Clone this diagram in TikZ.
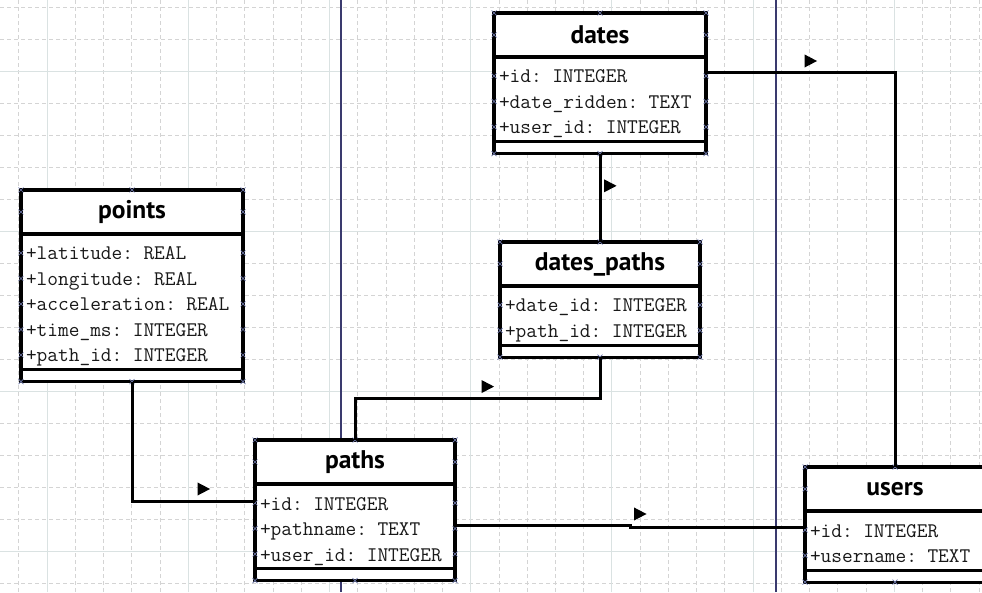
\documentclass[tikz,border=0pt]{standalone}
\usepackage{fontspec}
\newfontfamily\titlefont{PT Sans}
\usetikzlibrary{calc,positioning,shapes.geometric}
\definecolor{pagecol}{RGB}{58,58,110}
\definecolor{gridmaj}{RGB}{218,226,226}
\definecolor{gridmin}{RGB}{212,212,212}
\definecolor{attrcol}{RGB}{25,25,25}
\definecolor{hdlcol}{RGB}{110,120,170}

\begin{document}
\begin{tikzpicture}[x=1pt,y=1pt,
  tabtitle/.style={draw, line width=3.2pt, fill=white, anchor=north west, outer sep=0pt, inner sep=0pt, minimum height=44pt, font=\titlefont\bfseries\fontsize{25.5}{30}\selectfont},
  tabbody/.style={draw, line width=3.2pt, fill=white, anchor=north west, outer sep=0pt, inner xsep=5pt, inner ysep=0pt, align=left, text=attrcol, text height=26pt, execute at end node=\strut, font=\ttfamily\fontsize{20.8}{25.5}\selectfont},
  tabfoot/.style={draw, line width=3.2pt, fill=white, anchor=north west, outer sep=0pt, inner sep=0pt, minimum height=12pt},
  link/.style={line width=3pt},
  flag/.style={isosceles triangle, isosceles triangle apex angle=55, fill=black, inner sep=0pt, minimum size=12.5pt, xshift=8pt, yshift=12pt},
  xmark/.pic={\draw[hdlcol, line width=0.7pt] (-2.5,-2.5) -- (2.5,2.5) (-2.5,2.5) -- (2.5,-2.5);}
]
\useasboundingbox (0,0) rectangle (982,592);
\clip (0,0) rectangle (982,592);
\fill[white] (0,0) rectangle (982,592);

% grid
\foreach \gx in {0,...,34}
  \draw[gridmin, line width=0.7pt, dash pattern=on 4pt off 3pt] ({18.8+28.24*\gx},0) -- ++(0,592);
\foreach \gy in {0,...,18}
  \draw[gridmin, line width=0.7pt, dash pattern=on 4pt off 3pt] (0,{9+32*\gy}) -- ++(982,0);
\foreach \gx in {0,...,6}
  \draw[gridmaj, line width=0.9pt] ({47+141.2*\gx},0) -- ++(0,592);
\foreach \gy in {0,...,3}
  \draw[gridmaj, line width=0.9pt] (0,{41+160*\gy}) -- ++(982,0);

% page borders
\draw[pagecol, line width=1.2pt] (341,0) -- (341,592);
\draw[pagecol, line width=1.2pt] (776,0) -- (776,592);

% tables
\node[tabtitle, minimum width=222pt] (points) at (21,402) {points};
\node[tabbody, minimum width=222pt, text width=212pt, minimum height=134.5pt] (points-body) at (points.south west)
  {+latitude: REAL\\+longitude: REAL\\+acceleration: REAL\\+time\_ms: INTEGER\\+path\_id: INTEGER};
\node[tabfoot, minimum width=222pt] (points-foot) at (points-body.south west) {};

\node[tabtitle, minimum width=212pt] (dates) at (494,579) {dates};
\node[tabbody, minimum width=212pt, text width=202pt, minimum height=83.5pt] (dates-body) at (dates.south west)
  {+id: INTEGER\\+date\_ridden: TEXT\\+user\_id: INTEGER};
\node[tabfoot, minimum width=212pt] (dates-foot) at (dates-body.south west) {};

\node[tabtitle, minimum width=200pt] (datespaths) at (500,350) {dates\_paths};
\node[tabbody, minimum width=200pt, text width=190pt, minimum height=58pt] (datespaths-body) at (datespaths.south west)
  {+date\_id: INTEGER\\+path\_id: INTEGER};
\node[tabfoot, minimum width=200pt] (datespaths-foot) at (datespaths-body.south west) {};

\node[tabtitle, minimum width=200pt] (paths) at (255,152) {paths};
\node[tabbody, minimum width=200pt, text width=190pt, minimum height=83.5pt] (paths-body) at (paths.south west)
  {+id: INTEGER\\+pathname: TEXT\\+user\_id: INTEGER};
\node[tabfoot, minimum width=200pt] (paths-foot) at (paths-body.south west) {};

\node[tabtitle, minimum width=180pt] (users) at (805,125) {users};
\node[tabbody, minimum width=180pt, text width=170pt, minimum height=58pt] (users-body) at (users.south west)
  {+id: INTEGER\\+username: TEXT};
\node[tabfoot, minimum width=180pt] (users-foot) at (users-body.south west) {};

% connection points
\foreach \tb/\n in {points/5,dates/3,datespaths/2,paths/3,users/2}{
  \foreach \a in {north west,north,north east,west,east}
    \pic at (\tb.\a) {xmark};
  \foreach \a in {south west,south,south east}
    \pic at (\tb-foot.\a) {xmark};
  \foreach \k in {1,...,\n}{
    \pic at ([yshift={-19-25.5*(\k-1)}]\tb-body.north west) {xmark};
    \pic at ([yshift={-19-25.5*(\k-1)}]\tb-body.north east) {xmark};
  }
}

% links
\coordinate (paths-id) at ([yshift=-17pt]paths-body.north west);
\coordinate (paths-name) at ([yshift=-41pt]paths-body.north east);
\coordinate (users-id) at ([yshift=-16pt]users-body.north west);
\coordinate (dates-id) at ([yshift=-16pt]dates-body.north east);

\draw[link] (points-foot.south) -- (points-foot.south |- paths-id) -- node[flag] (flag-pp) {} (paths-id);
\draw[link] (paths.north) |- ($(paths.north)!.5!(datespaths-foot.south)$) node[flag] (flag-pd) {} -| (datespaths-foot.south);
\draw[link] (dates-foot.south) -- node[flag] (flag-dd) {} (datespaths.north);
\draw[link] (dates-id) -- node[flag] (flag-du) {} (dates-id -| users.north) -- (users.north);
\draw[link] (paths-name) -| ($(paths-name)!.5!(users-id)$) node[flag] (flag-pu) {} |- (users-id);
\end{tikzpicture}
\end{document}
